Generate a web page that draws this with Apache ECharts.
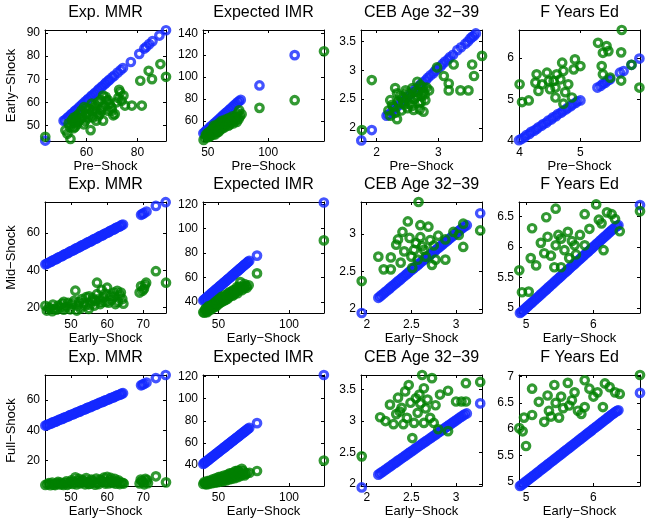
<!DOCTYPE html>
<html><head><meta charset="utf-8">
<script src="https://cdn.jsdelivr.net/npm/echarts@6/dist/echarts.min.js"></script>
<style>html,body{margin:0;padding:0;background:#fff}#c{width:647px;height:521px}</style>
</head><body><div id="c"></div>
<script>
// ---------- data ----------
const titles = ['Exp. MMR', 'Expected IMR', 'CEB Age 32\u221239', 'F Years Ed'];
const rowNames = ['Early\u2212Shock', 'Mid\u2212Shock', 'Full\u2212Shock'];
const colXNames = ['Pre\u2212Shock', 'Early\u2212Shock', 'Early\u2212Shock'];

// Row 1: x = Pre-Shock, y = Early-Shock
const mmrPreBlue = [[43.8,43.6],[51.0,52.1],[51.6,52.5],[52.5,53.4],[53.0,53.9],[53.9,54.8],[54.4,55.2],[55.3,56.2],[55.8,56.7],[56.7,57.4],[57.2,58.1],[58.1,58.9],[58.6,59.5],[59.5,60.4],[60.2,61.0],[60.7,61.6],[61.6,62.4],[62.1,63.0],[63.0,63.8],[63.5,64.3],[64.4,65.2],[64.9,65.8],[65.8,66.6],[66.3,67.1],[67.2,68.0],[67.7,68.6],[68.6,69.4],[69.1,69.9],[70.1,70.9],[70.9,71.6],[72.2,72.9],[73.4,74.0],[74.3,74.9],[77.4,77.5],[80.7,81.0],[82.7,83.3],[83.4,84.0],[84.6,85.2],[85.9,86.5],[88.6,88.9],[91.2,91.2]];
const mmrPreGreen = [[43.8,45.2],[51.7,48.0],[53.7,44.3],[54.9,48.9],[54.3,52.4],[56.3,50.6],[57.7,53.1],[58.9,50.6],[59.8,55.0],[61.1,57.2],[61.6,48.1],[62.4,53.6],[63.1,57.9],[63.8,52.2],[64.5,60.1],[65.1,55.0],[65.8,57.2],[66.5,63.0],[66.5,52.2],[67.8,60.8],[68.4,56.5],[69.8,57.9],[70.5,54.5],[71.1,55.0],[71.8,60.1],[73.2,64.4],[73.8,60.8],[74.5,63.0],[75.1,58.7],[77.8,58.7],[81.7,58.7],[81.1,69.4],[84.4,73.7],[85.7,70.1],[89.0,76.6],[91.2,71.1],[56.0,54.0],[58.0,56.5],[60.5,53.5],[62.0,59.5],[64.0,56.0],[67.0,58.5],[69.0,59.5],[55.5,49.5],[53.0,51.0],[57.0,52.0],[52.5,46.5],[53.5,49.5],[54.5,51.0],[55.0,53.5],[56.0,52.0],[57.0,55.0],[58.5,53.5],[59.5,52.0],[60.0,57.5],[61.0,55.0],[62.5,56.5],[63.5,59.0],[64.5,54.0],[65.5,61.0],[66.0,56.5],[67.5,62.5],[68.5,61.0],[70.0,56.5],[72.5,62.0],[72.8,65.5],[55.5,51.5],[59.0,58.0]];
const imrPreBlue = [[46.3,48.6],[47.6,49.8],[48.9,51.3],[50.6,52.7],[51.9,54.2],[53.2,55.4],[54.8,57.1],[56.1,58.2],[57.5,59.8],[59.0,61.1],[60.3,62.6],[61.9,64.0],[63.1,65.4],[64.6,66.9],[65.9,68.1],[67.5,69.7],[68.8,71.0],[70.2,72.4],[71.7,73.9],[73.1,75.2],[74.6,76.8],[75.9,77.9],[77.3,79.1],[92.8,92.3],[122.0,120.0]];
const imrPreGreen = [[46.5,42.5],[48.0,44.5],[49.0,46.5],[50.0,45.0],[51.0,48.0],[52.0,46.5],[52.5,50.0],[53.5,48.5],[54.0,52.0],[55.0,50.0],[55.5,54.0],[56.0,47.5],[57.0,52.5],[57.5,56.0],[58.0,49.5],[59.0,54.5],[59.5,58.0],[60.0,51.5],[61.0,56.0],[61.5,60.0],[62.0,53.0],[63.0,58.0],[63.5,55.0],[64.5,61.0],[65.0,57.0],[66.0,59.5],[67.0,55.5],[67.5,62.5],[68.5,58.5],[69.5,61.0],[70.5,64.0],[71.0,57.5],[72.5,60.0],[73.5,63.5],[74.5,66.5],[75.5,61.5],[76.0,69.5],[78.0,66.0],[48.5,47.5],[50.5,49.5],[51.5,45.5],[53.0,51.5],[54.5,47.5],[56.5,53.5],[58.5,51.5],[60.5,55.0],[62.5,57.5],[64.0,54.0],[66.5,60.5],[68.0,56.5],[70.0,59.5],[72.0,62.5],[74.0,59.0],[76.5,64.0],[55.0,55.5],[59.0,50.0],[92.8,71.8],[122.0,78.8],[146.3,123.5]];
const cebPreBlue = [[1.75,1.78],[1.92,1.96],[2.16,2.21],[2.19,2.23],[2.24,2.27],[2.27,2.31],[2.31,2.35],[2.36,2.39],[2.39,2.43],[2.44,2.47],[2.47,2.51],[2.51,2.55],[2.56,2.59],[2.59,2.63],[2.63,2.67],[2.68,2.71],[2.71,2.75],[2.75,2.79],[2.80,2.83],[2.83,2.87],[2.87,2.91],[2.92,2.95],[2.95,2.99],[2.99,3.03],[3.04,3.07],[3.07,3.11],[3.11,3.15],[3.16,3.19],[3.19,3.23],[3.24,3.27],[3.31,3.35],[3.37,3.40],[3.44,3.46],[3.48,3.50],[3.52,3.55],[3.55,3.58],[3.58,3.60],[3.61,3.64]];
const cebPreGreen = [[1.76,1.96],[1.92,2.83],[2.19,2.30],[2.22,2.21],[2.22,2.48],[2.27,2.36],[2.30,2.69],[2.33,2.15],[2.35,2.45],[2.40,2.30],[2.42,2.51],[2.45,2.40],[2.47,2.65],[2.50,2.34],[2.55,2.51],[2.58,2.69],[2.60,2.31],[2.63,2.63],[2.66,2.80],[2.69,2.43],[2.71,2.74],[2.73,2.55],[2.76,2.63],[2.76,2.28],[2.79,2.48],[2.81,2.70],[2.85,2.65],[2.98,3.05],[3.09,2.90],[3.17,2.77],[3.17,2.65],[3.25,3.10],[3.36,2.65],[3.49,2.65],[3.55,3.10],[3.58,2.90],[3.71,3.25],[2.52,2.58],[2.65,2.55],[2.38,2.55],[2.25,2.40],[2.30,2.26],[2.43,2.45],[2.48,2.60],[2.53,2.42],[2.57,2.38],[2.61,2.50],[2.68,2.62],[2.72,2.45],[2.75,2.70],[2.78,2.58],[2.70,2.32],[2.33,2.60]];
const fyePreBlue = [[3.99,4.02],[4.03,4.05],[4.08,4.09],[4.11,4.14],[4.16,4.17],[4.19,4.22],[4.24,4.25],[4.28,4.29],[4.31,4.33],[4.36,4.37],[4.39,4.41],[4.44,4.44],[4.47,4.49],[4.52,4.52],[4.55,4.57],[4.60,4.60],[4.63,4.65],[4.68,4.68],[4.71,4.72],[4.76,4.76],[4.79,4.80],[4.84,4.84],[4.87,4.88],[4.92,4.92],[4.95,4.96],[5.00,4.98],[5.28,5.29],[5.33,5.33],[5.37,5.38],[5.41,5.41],[5.45,5.46],[5.49,5.49],[5.65,5.65],[5.71,5.69],[5.84,5.84],[5.97,5.99]];
const fyePreGreen = [[4.00,5.37],[4.04,4.94],[4.15,4.98],[4.26,5.41],[4.28,5.61],[4.31,5.21],[4.37,5.37],[4.45,5.65],[4.48,5.45],[4.50,5.25],[4.56,5.45],[4.59,5.05],[4.59,5.29],[4.61,5.61],[4.67,5.49],[4.70,5.89],[4.72,5.69],[4.72,4.90],[4.75,5.18],[4.80,5.37],[4.86,5.05],[4.89,5.73],[4.91,5.97],[5.00,5.81],[5.29,6.37],[5.35,5.81],[5.37,6.13],[5.37,5.61],[5.43,6.29],[5.46,6.17],[5.49,5.53],[5.67,6.14],[5.67,5.46],[5.68,6.68],[5.84,5.84],[5.97,5.29]];

// Rows 2 & 3: x = Early-Shock; blue is identical in both rows
const mmrEarlyBlue = [[42.9,43.2],[43.3,43.5],[43.6,43.9],[44.1,44.3],[44.5,44.6],[44.8,45.1],[45.2,45.5],[45.7,45.8],[46.1,46.2],[46.4,46.7],[46.8,47.1],[47.3,47.4],[47.7,47.8],[48.0,48.3],[48.4,48.7],[48.9,49.0],[49.3,49.4],[49.6,49.9],[50.0,50.3],[50.5,50.6],[50.9,51.0],[51.2,51.5],[51.6,51.9],[52.1,52.2],[52.5,52.6],[52.8,53.1],[53.2,53.5],[53.7,53.8],[54.1,54.2],[54.4,54.7],[54.8,55.1],[55.3,55.4],[55.7,55.8],[56.0,56.3],[56.4,56.7],[56.9,57.0],[57.3,57.4],[57.6,57.9],[58.0,58.3],[58.5,58.6],[58.9,59.0],[59.2,59.5],[59.6,59.9],[60.1,60.2],[60.5,60.6],[60.8,61.1],[61.2,61.5],[61.7,61.8],[62.1,62.2],[62.4,62.7],[62.8,63.1],[63.3,63.4],[63.7,63.8],[64.0,64.3],[64.4,64.6],[69.4,69.8],[69.8,70.3],[70.2,70.7],[70.9,71.6],[73.5,74.6],[76.2,76.6]];
const imrEarlyBlue = [[39.2,41.0],[39.9,41.8],[40.6,42.4],[41.4,43.2],[42.1,44.0],[42.8,44.6],[43.5,45.3],[44.3,46.1],[45.0,46.9],[45.7,47.5],[46.4,48.2],[47.2,49.0],[47.9,49.8],[48.6,50.4],[49.3,51.1],[50.1,51.9],[50.8,52.7],[51.5,53.3],[52.2,54.0],[53.0,54.8],[53.7,55.6],[54.4,56.2],[55.1,56.9],[55.9,57.7],[56.6,58.5],[57.3,59.1],[58.0,59.8],[58.8,60.6],[59.5,61.4],[60.2,62.0],[60.9,62.7],[61.7,63.5],[62.4,64.3],[63.1,64.9],[63.8,65.6],[64.6,66.4],[65.3,67.2],[66.0,67.8],[66.7,68.5],[67.5,69.3],[68.2,70.1],[68.9,70.7],[69.6,71.4],[70.3,72.1],[70.9,72.8],[71.8,73.6],[77.3,77.9],[124.7,121.5]];
const cebEarlyBlue = [[1.944,1.947],[2.13,2.15],[2.148,2.167],[2.165,2.186],[2.186,2.203],[2.204,2.224],[2.222,2.241],[2.243,2.262],[2.261,2.279],[2.28,2.30],[2.298,2.318],[2.319,2.337],[2.337,2.356],[2.355,2.376],[2.376,2.393],[2.394,2.414],[2.412,2.431],[2.433,2.452],[2.451,2.47],[2.47,2.49],[2.488,2.507],[2.509,2.527],[2.527,2.546],[2.545,2.565],[2.566,2.583],[2.584,2.603],[2.602,2.621],[2.623,2.641],[2.641,2.659],[2.66,2.678],[2.678,2.695],[2.699,2.714],[2.717,2.733],[2.735,2.752],[2.756,2.77],[2.774,2.789],[2.792,2.808],[2.813,2.827],[2.831,2.845],[2.85,2.864],[2.868,2.883],[2.889,2.902],[2.907,2.92],[2.925,2.939],[2.946,2.958],[2.964,2.977],[2.982,2.995],[3.003,3.014],[3.021,3.033],[3.04,3.052],[3.058,3.07],[3.079,3.089],[3.097,3.107],[3.12,3.12],[3.27,3.28]];
const fyeEarlyBlue = [[4.91,4.92],[4.93,4.935],[4.952,4.958],[4.975,4.979],[4.996,5.003],[5.02,5.024],[5.041,5.047],[5.063,5.068],[5.086,5.09],[5.107,5.113],[5.13,5.134],[5.152,5.158],[5.174,5.179],[5.197,5.2],[5.218,5.225],[5.241,5.245],[5.263,5.269],[5.285,5.29],[5.308,5.312],[5.329,5.336],[5.352,5.357],[5.374,5.38],[5.396,5.401],[5.419,5.423],[5.44,5.447],[5.463,5.468],[5.485,5.491],[5.507,5.512],[5.53,5.534],[5.551,5.558],[5.574,5.579],[5.596,5.602],[5.618,5.623],[5.641,5.645],[5.662,5.669],[5.685,5.69],[5.707,5.713],[5.729,5.734],[5.752,5.756],[5.773,5.78],[5.796,5.801],[5.818,5.824],[5.84,5.845],[5.863,5.867],[5.884,5.891],[5.907,5.912],[5.929,5.935],[5.951,5.956],[5.974,5.978],[5.995,6.002],[6.018,6.023],[6.04,6.046],[6.062,6.067],[6.085,6.089],[6.106,6.113],[6.129,6.134],[6.151,6.157],[6.173,6.178],[6.196,6.2],[6.217,6.224],[6.24,6.245],[6.262,6.268],[6.284,6.289],[6.307,6.309],[6.328,6.33],[6.35,6.347],[6.37,6.36],[6.69,6.69]];

const mmrMidGreen = [[42.9,20.9],[43.3,18.3],[44.2,19.5],[45.6,19.2],[46.5,21.0],[47.0,20.0],[48.4,20.1],[49.2,22.5],[50.3,21.9],[51.2,29.0],[51.6,18.3],[52.2,22.8],[53.0,24.5],[53.9,20.9],[54.9,19.2],[55.8,23.6],[56.5,21.0],[57.2,33.3],[57.2,27.1],[58.1,21.8],[59.0,25.4],[59.6,23.0],[60.0,30.6],[60.9,26.2],[61.8,28.0],[62.3,21.8],[62.8,28.9],[63.5,26.5],[64.2,24.5],[69.0,28.0],[69.4,31.5],[70.2,30.0],[70.8,33.3],[73.5,39.5],[76.3,33.3],[48.0,23.0],[55.0,26.0],[58.5,29.5],[43.8,20.0],[44.8,18.0],[45.0,21.5],[46.0,18.8],[47.5,22.0],[48.0,18.8],[49.0,20.5],[49.8,19.0],[50.8,23.5],[51.8,21.0],[52.6,19.5],[53.5,22.5],[54.2,25.5],[55.2,21.5],[56.0,25.0],[56.8,23.5],[57.8,24.5],[58.6,23.0],[59.5,27.5],[60.4,22.5],[61.2,24.0],[62.0,26.0],[63.0,23.0],[63.8,28.0],[64.5,22.0],[69.8,29.0],[70.5,32.0]];
const mmrFullGreen = [[42.9,4.0],[43.5,4.5],[44.3,3.8],[45.2,4.2],[46.0,5.0],[46.8,4.3],[47.5,4.6],[48.3,5.3],[49.0,4.1],[49.8,5.8],[50.5,4.7],[51.2,9.0],[51.8,6.5],[52.5,5.0],[53.2,7.2],[53.9,4.4],[54.6,5.9],[55.3,4.8],[56.0,6.8],[56.7,4.2],[57.4,5.5],[58.1,7.6],[58.8,6.2],[59.5,4.9],[60.0,9.4],[60.7,7.0],[61.4,5.3],[62.1,8.1],[62.8,6.0],[63.5,4.6],[64.3,5.4],[69.0,5.0],[69.6,6.5],[70.3,4.4],[71.0,7.2],[73.5,9.7],[76.3,5.7],[43.9,5.2],[44.8,5.6],[45.6,3.9],[46.4,6.0],[47.1,5.5],[47.9,4.0],[48.7,6.3],[49.4,4.9],[50.1,7.0],[50.9,6.0],[51.5,4.3],[52.2,8.0],[52.9,5.8],[53.6,6.5],[54.2,8.5],[54.9,4.6],[55.6,7.5],[56.3,5.6],[57.0,8.2],[57.7,4.6],[58.4,6.8],[59.1,8.8],[59.8,6.0],[60.4,5.0],[61.0,8.6],[61.7,6.4],[62.4,4.8],[63.1,7.0],[63.8,5.5],[64.6,4.9],[69.3,7.5],[70.0,5.8],[70.6,8.0],[71.3,5.2]];
const imrMidGreen = [[39.2,31.4],[40.5,33.5],[41.5,32.0],[42.5,35.0],[43.5,33.0],[44.5,36.5],[45.0,34.0],[46.0,38.0],[46.5,35.5],[47.5,39.5],[48.0,36.0],[49.0,41.0],[49.5,37.5],[50.5,42.5],[51.0,39.0],[52.0,44.0],[52.5,40.0],[53.5,42.0],[54.5,45.5],[55.0,41.5],[56.0,43.5],[57.0,47.0],[57.5,44.0],[58.5,46.0],[59.5,48.5],[60.0,45.0],[61.5,47.5],[62.5,50.0],[63.5,47.0],[64.5,52.5],[65.5,56.2],[66.5,49.5],[68.0,51.0],[69.5,53.0],[71.4,53.5],[40.0,31.0],[41.0,34.5],[42.0,31.5],[43.0,36.5],[44.0,34.0],[45.5,37.5],[47.0,36.0],[48.5,38.5],[50.0,40.0],[51.5,42.0],[53.0,43.5],[54.0,41.0],[55.5,45.0],[56.5,42.5],[58.0,48.0],[59.0,45.5],[60.5,49.5],[61.0,46.0],[62.0,48.5],[63.0,52.0],[64.0,49.0],[65.0,51.0],[67.0,52.5],[68.5,54.5],[70.0,51.5],[77.3,63.3],[124.7,90.4]];
const imrFullGreen = [[39.2,22.8],[40.5,23.5],[41.5,22.5],[42.5,24.0],[43.5,23.0],[44.5,24.8],[45.5,23.5],[46.5,25.5],[47.5,24.0],[48.5,26.0],[49.5,24.5],[50.5,26.5],[51.5,25.0],[52.5,27.5],[53.5,25.5],[54.5,28.0],[55.5,26.0],[56.5,28.5],[57.0,31.0],[57.5,27.0],[58.5,29.5],[59.5,27.5],[60.0,33.0],[60.5,30.0],[61.5,28.0],[62.5,31.0],[63.5,34.5],[63.5,29.0],[64.5,32.0],[65.5,30.0],[66.5,36.5],[67.0,31.5],[68.5,30.5],[70.0,32.5],[72.0,33.0],[40.0,24.5],[41.0,23.0],[42.0,25.5],[43.0,24.0],[44.0,26.0],[45.0,24.5],[46.0,27.0],[47.0,25.5],[48.0,28.0],[49.0,26.5],[50.0,29.0],[51.0,27.0],[52.0,29.5],[53.0,28.0],[54.0,30.5],[55.0,28.5],[56.0,31.0],[58.0,32.5],[59.0,30.5],[61.0,32.5],[62.0,34.5],[64.0,35.0],[65.0,33.5],[67.5,34.5],[69.0,32.0],[77.3,34.6],[124.7,44.0]];
const cebMidGreen = [[1.944,2.374],[2.13,2.70],[2.19,2.53],[2.27,2.53],[2.27,2.69],[2.33,2.86],[2.35,2.93],[2.38,2.62],[2.40,3.03],[2.42,2.77],[2.46,3.17],[2.48,2.95],[2.50,2.70],[2.51,2.55],[2.53,2.79],[2.55,2.88],[2.57,2.66],[2.58,3.43],[2.60,3.12],[2.60,2.96],[2.62,2.84],[2.64,2.79],[2.66,2.70],[2.69,3.10],[2.71,2.92],[2.73,2.59],[2.75,2.85],[2.77,2.66],[2.80,2.98],[2.88,2.66],[2.88,2.93],[2.97,3.03],[3.03,2.99],[3.08,3.14],[3.08,2.83],[3.27,3.05]];
const cebFullGreen = [[1.944,2.44],[2.15,3.06],[2.21,3.00],[2.26,3.26],[2.30,2.95],[2.33,3.11],[2.35,3.37],[2.39,3.21],[2.41,2.95],[2.43,3.47],[2.45,3.05],[2.47,3.57],[2.49,3.29],[2.51,2.73],[2.53,2.97],[2.55,3.36],[2.57,3.13],[2.59,3.42],[2.62,3.73],[2.64,3.52],[2.64,2.97],[2.66,3.20],[2.68,3.34],[2.71,3.05],[2.73,3.68],[2.75,2.97],[2.77,3.25],[2.80,2.87],[2.82,3.42],[2.91,3.48],[2.91,2.84],[3.00,3.31],[3.06,3.31],[3.11,3.60],[3.11,3.31],[3.27,3.62],[2.37,3.15],[2.60,3.28]];
const fyeMidGreen = [[4.90,5.62],[4.94,5.26],[5.04,5.27],[5.07,5.82],[5.09,6.31],[5.15,5.70],[5.22,6.07],[5.27,5.90],[5.30,6.49],[5.32,6.17],[5.37,5.86],[5.42,5.67],[5.44,6.63],[5.44,6.03],[5.48,6.20],[5.52,5.67],[5.52,6.14],[5.57,5.95],[5.62,6.25],[5.64,5.82],[5.68,6.10],[5.72,6.03],[5.74,5.88],[5.80,6.20],[5.87,6.54],[5.87,6.03],[5.94,6.30],[6.04,6.70],[6.08,6.45],[6.12,6.39],[6.15,5.95],[6.20,6.57],[6.27,6.54],[6.32,6.46],[6.39,6.26],[6.69,6.59]];
const fyeFullGreen = [[4.90,6.02],[4.95,5.96],[4.97,6.22],[5.00,5.68],[5.09,6.27],[5.09,6.77],[5.19,6.52],[5.27,6.14],[5.32,6.64],[5.34,6.35],[5.37,6.24],[5.42,6.84],[5.44,6.50],[5.49,6.22],[5.52,6.62],[5.55,6.40],[5.62,6.88],[5.64,6.45],[5.68,6.55],[5.72,6.70],[5.77,6.35],[5.82,6.29],[5.87,6.42],[5.87,6.93],[5.94,6.77],[6.00,6.62],[6.06,6.70],[6.14,6.42],[6.17,6.87],[6.24,6.80],[6.32,6.70],[6.39,6.67],[6.69,7.03]];

// tick labels
const ticksMMRPreX = [60, 80], ticksMMRPreY = [50, 60, 70, 80, 90];
const ticksIMRPreX = [50, 100], ticksIMRPreY = [60, 80, 100, 120, 140];
const ticksCEBPreX = [2, 3], ticksCEBPreY = [2, 2.5, 3, 3.5];
const ticksFYEPreX = [4, 5], ticksFYEPreY = [4, 5, 6];
const ticksMMRX = [50, 60, 70], ticksMMRY = [20, 40, 60];
const ticksIMRX = [50, 100], ticksIMRY = [40, 60, 80, 100, 120];
const ticksCEBX = [2, 2.5, 3], ticksCEBMidY = [2, 2.5, 3], ticksCEBFullY = [2, 2.5, 3, 3.5];
const ticksFYEX = [5, 6], ticksFYEMidY = [5, 5.5, 6, 6.5], ticksFYEFullY = [5, 5.5, 6, 6.5, 7];

// ---------- layout ----------
const BLUE = '#1428ff', GREEN = '#008000', FONT = '"Liberation Sans", Arial, Helvetica, sans-serif';
const lefts = [45, 203, 361, 519], tops = [30, 202, 375], W = 121, H = 111;
const titleTops = [5, 177, 350];

const panels = [
  {blue: mmrPreBlue, green: mmrPreGreen, xr: [43.7, 91.2], yr: [43.4, 91.3], xt: ticksMMRPreX, yt: ticksMMRPreY},
  {blue: imrPreBlue, green: imrPreGreen, xr: [46.0, 146.3], yr: [41.5, 143], xt: ticksIMRPreX, yt: ticksIMRPreY},
  {blue: cebPreBlue, green: cebPreGreen, xr: [1.745, 3.71], yr: [1.77, 3.70], xt: ticksCEBPreX, yt: ticksCEBPreY},
  {blue: fyePreBlue, green: fyePreGreen, xr: [3.99, 5.98], yr: [4.0, 6.68], xt: ticksFYEPreX, yt: ticksFYEPreY},
  {blue: mmrEarlyBlue, green: mmrMidGreen, xr: [42.8, 76.3], yr: [17, 76.7], xt: ticksMMRX, yt: ticksMMRY},
  {blue: imrEarlyBlue, green: imrMidGreen, xr: [39, 124.8], yr: [30.8, 121.9], xt: ticksIMRX, yt: ticksIMRY},
  {blue: cebEarlyBlue, green: cebMidGreen, xr: [1.936, 3.29], yr: [1.947, 3.43], xt: ticksCEBX, yt: ticksCEBMidY},
  {blue: fyeEarlyBlue, green: fyeMidGreen, xr: [4.896, 6.69], yr: [4.92, 6.74], xt: ticksFYEX, yt: ticksFYEMidY},
  {blue: mmrEarlyBlue, green: mmrFullGreen, xr: [42.8, 76.3], yr: [3.3, 76.6], xt: ticksMMRX, yt: ticksMMRY},
  {blue: imrEarlyBlue, green: imrFullGreen, xr: [39, 124.8], yr: [21, 121.5], xt: ticksIMRX, yt: ticksIMRY},
  {blue: cebEarlyBlue, green: cebFullGreen, xr: [1.936, 3.29], yr: [1.97, 3.73], xt: ticksCEBX, yt: ticksCEBFullY},
  {blue: fyeEarlyBlue, green: fyeFullGreen, xr: [4.896, 6.69], yr: [4.92, 7.03], xt: ticksFYEX, yt: ticksFYEFullY}
];

const grid = [], xAxis = [], yAxis = [], series = [], title = [];
function mkAxis(gi, pos, range, ticks, showLabel, name, nameGap) {
  const a = {
    type: 'value', gridIndex: gi, position: pos, min: range[0], max: range[1],
    splitLine: {show: false},
    axisLine: {show: true, onZero: false, lineStyle: {color: '#000', width: 1}},
    axisTick: {show: true, inside: true, length: 3, customValues: ticks, lineStyle: {color: '#000', width: 1}},
    axisLabel: {show: showLabel, customValues: ticks, color: '#000', fontSize: 12, fontFamily: FONT,
      margin: (pos === 'left' ? 5 : 6)},
    silent: true
  };
  if (name) {
    a.name = name; a.nameLocation = 'middle'; a.nameGap = nameGap;
    a.nameTextStyle = {color: '#000', fontSize: 13, fontFamily: FONT};
  }
  return a;
}
function ring(color) {
  return {color: 'rgba(0,0,0,0)', borderColor: color, borderWidth: 3.2};
}
panels.forEach((p, i) => {
  const r = Math.floor(i / 4), c = i % 4;
  grid.push({left: lefts[c], top: tops[r], width: W, height: H, containLabel: false});
  xAxis.push(mkAxis(i, 'bottom', p.xr, p.xt, true, colXNames[r], 19));
  xAxis.push(mkAxis(i, 'top', p.xr, p.xt, false));
  yAxis.push(mkAxis(i, 'left', p.yr, p.yt, true, c === 0 ? rowNames[r] : null, 27));
  yAxis.push(mkAxis(i, 'right', p.yr, p.yt, false));
  series.push({type: 'scatter', xAxisIndex: 2 * i, yAxisIndex: 2 * i, data: p.blue, symbol: 'circle',
    symbolSize: 7.5, itemStyle: ring(BLUE), clip: false, silent: true});
  series.push({type: 'scatter', xAxisIndex: 2 * i, yAxisIndex: 2 * i, data: p.green, symbol: 'circle',
    symbolSize: 7.5, itemStyle: ring(GREEN), clip: false, silent: true});
  title.push({text: titles[c], left: lefts[c] + W / 2, top: titleTops[r], textAlign: 'center', padding: 0,
    textStyle: {color: '#000', fontSize: 16, fontWeight: 'normal', fontFamily: FONT}});
});

const chart = echarts.init(document.getElementById('c'), null, {renderer: 'canvas'});
chart.setOption({animation: false, backgroundColor: '#fff', title, grid, xAxis, yAxis, series});
</script></body></html>
